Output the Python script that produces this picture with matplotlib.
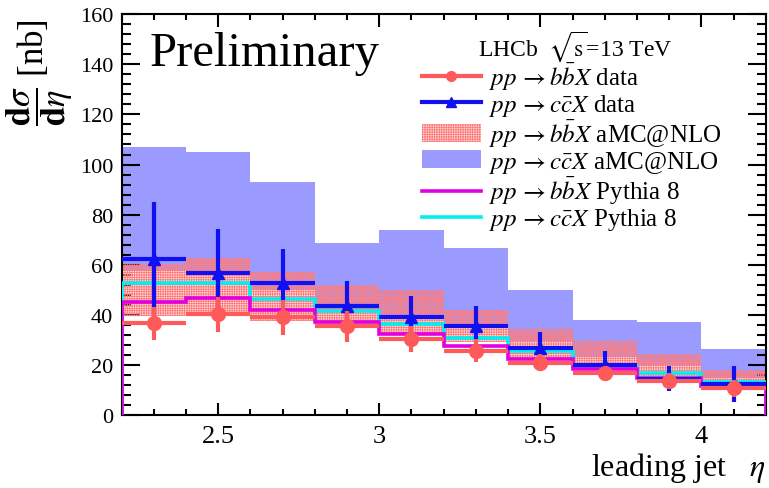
import matplotlib
matplotlib.use('Agg')
import matplotlib.pyplot as plt
import matplotlib.patches as mpatches
from matplotlib.lines import Line2D
from matplotlib.ticker import MultipleLocator
import numpy as np

plt.rcParams['font.family'] = ['Liberation Serif', 'DejaVu Serif']
plt.rcParams['mathtext.fontset'] = 'stix'
plt.rcParams['hatch.linewidth'] = 0.6

# bin edges in leading jet eta
edges = [2.2, 2.4, 2.6, 2.8, 3.0, 3.2, 3.4, 3.6, 3.8, 4.0, 4.2]

# measured cross sections [nb]
bb_data = [36.6, 40.3, 39.0, 35.4, 30.5, 25.7, 21.0, 16.7, 13.7, 10.8]
bb_err = [6.5, 7.0, 7.0, 6.2, 5.2, 4.5, 3.2, 2.6, 3.0, 3.4]
cc_data = [62.2, 56.9, 52.6, 43.6, 39.0, 35.6, 26.8, 20.1, 14.6, 12.3]
cc_err = [23.0, 17.5, 13.7, 10.0, 8.4, 7.8, 6.3, 5.6, 5.1, 7.2]

# aMC@NLO bands (low / high)
bb_amc_lo = [39.6, 40.3, 37.6, 36.3, 32.3, 29.0, 22.4, 18.3, 15.7, 12.3]
bb_amc_hi = [60.2, 62.6, 57.0, 51.8, 50.0, 42.0, 34.3, 29.6, 24.4, 18.1]
cc_amc_lo = [57.5, 57.5, 50.0, 42.0, 40.0, 36.0, 29.6, 23.0, 20.0, 15.0]
cc_amc_hi = [107.0, 105.0, 93.0, 68.5, 74.0, 66.5, 50.0, 38.0, 37.0, 26.5]

# Pythia 8
bb_pythia = [45.2, 46.6, 42.0, 37.0, 32.3, 27.4, 22.6, 18.3, 15.0, 11.6]
cc_pythia = [52.6, 52.6, 46.3, 41.4, 36.3, 30.8, 25.7, 19.1, 17.0, 13.4]

edges_arr = np.array(edges)
centers = 0.5 * (edges_arr[:-1] + edges_arr[1:])
half_w = 0.5 * np.diff(edges_arr)

c_red = '#ff5a5a'
c_blue = '#1010f0'
c_band = '#9a9aff'
c_pink = '#ff7a7a'
c_pink_fill = (1.0, 0.55, 0.55, 0.3)
c_mag = '#e000e0'
c_cyan = '#00f0f0'

fig = plt.figure(figsize=(7.69, 4.89), dpi=100)
ax = fig.add_axes([0.158, 0.149, 0.838, 0.820])

ax.stairs(cc_amc_hi, edges, baseline=cc_amc_lo, fill=True,
          facecolor=c_band, edgecolor='none', zorder=1)
ax.stairs(bb_amc_hi, edges, baseline=bb_amc_lo, fill=True,
          facecolor=c_pink_fill, edgecolor=c_pink, hatch='+++++++', lw=0, zorder=2)
ax.stairs(cc_pythia, edges, baseline=0, color=c_cyan, lw=2.6, zorder=3)
ax.stairs(bb_pythia, edges, baseline=0, color=c_mag, lw=2.6, zorder=4)

ax.errorbar(centers, cc_data, xerr=half_w, yerr=cc_err, fmt='^', color=c_blue,
            ms=9, elinewidth=3, capsize=0, zorder=5)
ax.errorbar(centers, bb_data, xerr=half_w, yerr=bb_err, fmt='o', color=c_red,
            ms=10, elinewidth=3, capsize=0, zorder=6)

ax.set_xlim(2.2, 4.2)
ax.set_ylim(0, 160)
ax.xaxis.set_major_locator(MultipleLocator(0.5))
ax.xaxis.set_minor_locator(MultipleLocator(0.1))
ax.yaxis.set_major_locator(MultipleLocator(20))
ax.yaxis.set_minor_locator(MultipleLocator(4))
ax.set_xticks([2.5, 3, 3.5, 4], ['2.5', '3', '3.5', '4'])
ax.tick_params(axis='both', which='both', direction='in', top=True, right=True,
               width=1.5)
ax.tick_params(axis='x', which='major', length=9, labelsize=19, pad=7)
ax.tick_params(axis='x', which='minor', length=4.5)
ax.tick_params(axis='y', which='major', length=13, labelsize=16, pad=6)
ax.tick_params(axis='y', which='minor', length=6.5)
for lbl in ax.get_xticklabels() + ax.get_yticklabels():
    lbl.set_fontfamily('Liberation Serif')
for sp in ax.spines.values():
    sp.set_linewidth(1.5)

fig.text(0.995, 0.042, r'leading jet   $\eta$', ha='right', va='center', fontsize=23)
fig.text(0.052, 0.852, r'$\dfrac{\mathbf{d}\sigma}{\mathbf{d}\eta}$ [nb]',
         rotation=90, ha='center', va='center', fontsize=25)
ax.text(0.044, 0.958, 'Preliminary', transform=ax.transAxes,
        ha='left', va='top', fontsize=35)
fig.text(478 / 769, 1 - 47 / 489, r'LHCb  $\sqrt{\mathrm{s}}$=13 TeV',
         ha='left', va='center', fontsize=17)

handles = [
    Line2D([], [], color=c_red, marker='o', ms=7, lw=3),
    Line2D([], [], color=c_blue, marker='^', ms=7, lw=3),
    mpatches.Patch(facecolor=c_pink_fill, edgecolor=c_pink, hatch='+++++++', lw=0),
    mpatches.Patch(facecolor=c_band, edgecolor='none'),
    Line2D([], [], color=c_mag, lw=2.6),
    Line2D([], [], color=c_cyan, lw=2.6),
]
labels = [
    r'$pp\,\rightarrow b\bar{b}X$ data',
    r'$pp\,\rightarrow c\bar{c}X$ data',
    r'$pp\,\rightarrow b\bar{b}X$ aMC@NLO',
    r'$pp\,\rightarrow c\bar{c}X$ aMC@NLO',
    r'$pp\,\rightarrow b\bar{b}X$ Pythia 8',
    r'$pp\,\rightarrow c\bar{c}X$ Pythia 8',
]
leg = ax.legend(handles, labels, loc='upper left', bbox_to_anchor=(0.443, 0.922),
                frameon=False, fontsize=18, handlelength=2.35, handleheight=0.7,
                handletextpad=0.35, labelspacing=0.0, borderaxespad=0.2)
leg.set_zorder(10)

fig.savefig('out.png', dpi=100)
